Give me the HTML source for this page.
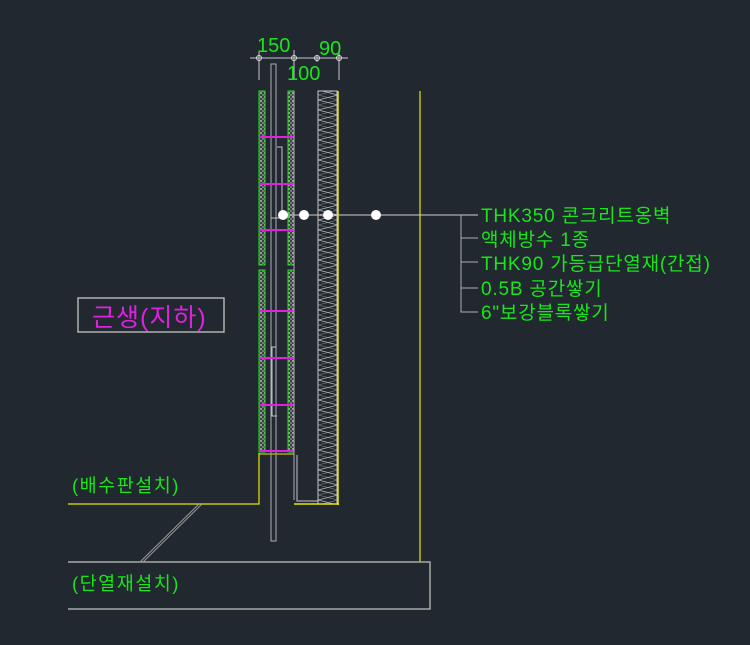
<!DOCTYPE html>
<html><head><meta charset="utf-8"><style>
html,body{margin:0;padding:0;background:#212830;}
svg{display:block}
text{font-family:"Liberation Sans","Noto Sans CJK KR",sans-serif;}
</style></head><body>
<svg width="750" height="645" viewBox="0 0 750 645" xmlns="http://www.w3.org/2000/svg">
<defs>
<pattern id="hatch" width="4" height="4" patternUnits="userSpaceOnUse">
<rect width="4" height="4" fill="#3a3f44"/>
<rect x="0" y="0" width="2" height="2" fill="#9a9a9a"/>
<rect x="2" y="2" width="2" height="2" fill="#777"/>
</pattern>
<pattern id="zig" width="20" height="10" patternUnits="userSpaceOnUse" x="318" y="90">
<polyline points="0,0 20,5 0,10" fill="none" stroke="#b5b5b5" stroke-width="0.8"/>
<polyline points="20,0 0,5 20,10" fill="none" stroke="#8a8a8a" stroke-width="0.6"/>
</pattern>
</defs>
<rect width="750" height="645" fill="#212830"/>

<line x1="250" y1="58" x2="348" y2="58" stroke="#c8c8c8" stroke-width="1"/>
<line x1="259" y1="52" x2="259" y2="80" stroke="#c8c8c8"/>
<line x1="294" y1="50" x2="294" y2="80" stroke="#c8c8c8"/>
<line x1="317" y1="55" x2="317" y2="62" stroke="#c8c8c8"/>
<line x1="339" y1="52" x2="339" y2="80" stroke="#c8c8c8"/>
<g fill="none" stroke="#ddd" stroke-width="1"><circle cx="259" cy="58" r="2.5"/><circle cx="294" cy="58" r="2.5"/><circle cx="317" cy="58" r="2.5"/><circle cx="339" cy="58" r="2.5"/></g>
<text x="257" y="52" font-size="20" fill="#19e619">150</text>
<text x="319" y="55" font-size="20" fill="#19e619">90</text>
<text x="287" y="80" font-size="20" fill="#19e619">100</text>

<rect x="271" y="64" width="5" height="477" fill="none" stroke="#b0b0b0" stroke-width="1"/>
<polyline points="277,147 282,147 282,218 271,218" fill="none" stroke="#c8c8c8" stroke-width="1"/>
<polyline points="276,347 272,347 272,416 277,416" fill="none" stroke="#c8c8c8" stroke-width="1"/>

<g stroke="#19e619" stroke-width="1" fill="url(#hatch)">
<rect x="259" y="91" width="6" height="174"/>
<rect x="288" y="91" width="6" height="174"/>
<rect x="259" y="270" width="6" height="182"/>
<rect x="288" y="270" width="6" height="182"/>
</g>
<g stroke="#e020e0" stroke-width="2">
<line x1="259" y1="137" x2="294" y2="137"/>
<line x1="259" y1="184" x2="294" y2="184"/>
<line x1="259" y1="230" x2="294" y2="230"/>
<line x1="259" y1="311" x2="294" y2="311"/>
<line x1="259" y1="358" x2="294" y2="358"/>
<line x1="259" y1="405" x2="294" y2="405"/>
<line x1="259" y1="451" x2="294" y2="451"/>
</g>
<line x1="259" y1="454" x2="294" y2="454" stroke="#b0a020" stroke-width="1.5"/>
<line x1="294" y1="91" x2="294" y2="500" stroke="#b0b0b0" stroke-width="1"/>
<polyline points="297,455 297,501 318,501" fill="none" stroke="#c8c8c8" stroke-width="1"/>

<rect x="318" y="91" width="19" height="413" fill="url(#zig)" stroke="#c8c8c8" stroke-width="1"/>
<line x1="338" y1="91" x2="338" y2="505" stroke="#e6e600" stroke-width="1.5"/>

<polyline points="68,504 259,504 259,453" fill="none" stroke="#e6e600" stroke-width="1.2"/>
<line x1="294" y1="504" x2="339" y2="504" stroke="#e6e600" stroke-width="1.5"/>
<line x1="420" y1="91" x2="420" y2="562" stroke="#e6e600" stroke-width="1.2"/>

<polyline points="68,562 430,562 430,609 68,609" fill="none" stroke="#a8a8a8" stroke-width="1.5"/>
<line x1="202" y1="504" x2="143" y2="562" stroke="#9a9a9a" stroke-width="1"/>
<line x1="199" y1="504" x2="140" y2="562" stroke="#9a9a9a" stroke-width="1"/>

<line x1="283" y1="215" x2="478" y2="215" stroke="#d0d0d0" stroke-width="1"/>
<g fill="#fff"><circle cx="283" cy="215" r="5"/><circle cx="304" cy="215" r="5"/><circle cx="328" cy="215" r="5"/><circle cx="376" cy="215" r="5"/></g>
<polyline points="461,215 461,312 478,312" fill="none" stroke="#b0b0b0" stroke-width="1"/>
<g stroke="#b0b0b0"><line x1="461" y1="238" x2="478" y2="238"/><line x1="461" y1="262" x2="478" y2="262"/><line x1="461" y1="288" x2="478" y2="288"/></g>
<g font-size="19" fill="#19e619" letter-spacing="0.8">
<text x="481" y="222">THK350 콘크리트옹벽</text>
<text x="481" y="246">액체방수 1종</text>
<text x="481" y="270">THK90 가등급단열재(간접)</text>
<text x="481" y="295">0.5B 공간쌓기</text>
<text x="481" y="319">6"보강블록쌓기</text>
</g>

<rect x="78" y="298" width="146" height="34" fill="none" stroke="#b0b0b0" stroke-width="1.5"/>
<text x="92" y="326" font-size="25" fill="#e020e0" letter-spacing="1">근생(지하)</text>
<text x="72" y="492" font-size="18.5" fill="#19e619" letter-spacing="1.5">(배수판설치)</text>
<text x="72" y="590" font-size="18.5" fill="#19e619" letter-spacing="1.5">(단열재설치)</text>
</svg>
</body></html>
